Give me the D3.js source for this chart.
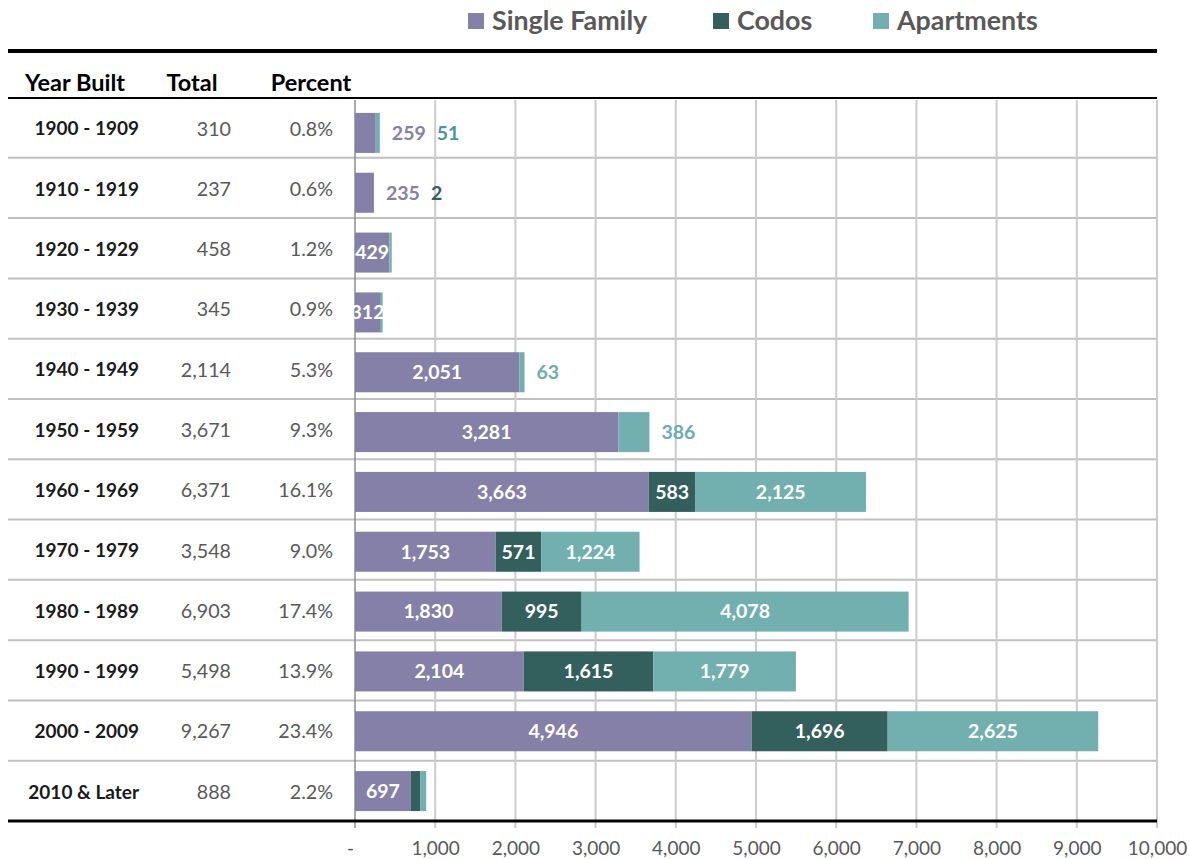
<!DOCTYPE html>
<html>
<head>
<meta charset="utf-8">
<script src="https://cdn.jsdelivr.net/npm/d3@7"></script>
<style>
  html, body { margin: 0; padding: 0; background: #fff; }
  svg { display: block; font-family: Lato, "Open Sans", sans-serif; }
</style>
</head>
<body>
<svg id="chart" width="1189" height="859"></svg>
<script>
// Housing units by year built, split by structure type
const yearBuilt = ["1900 - 1909", "1910 - 1919", "1920 - 1929", "1930 - 1939", "1940 - 1949",
  "1950 - 1959", "1960 - 1969", "1970 - 1979", "1980 - 1989", "1990 - 1999", "2000 - 2009", "2010 & Later"];
const totals = [310, 237, 458, 345, 2114, 3671, 6371, 3548, 6903, 5498, 9267, 888];
const percents = ["0.8%", "0.6%", "1.2%", "0.9%", "5.3%", "9.3%", "16.1%", "9.0%", "17.4%", "13.9%", "23.4%", "2.2%"];
const singleFamily = [259, 235, 429, 312, 2051, 3281, 3663, 1753, 1830, 2104, 4946, 697];
const codos = [0, 2, 0, 0, 0, 4, 583, 571, 995, 1615, 1696, 115];
const apartments = [51, 0, 29, 33, 63, 386, 2125, 1224, 4078, 1779, 2625, 76];
const seriesNames = ["Single Family", "Codos", "Apartments"];
const xTicks = [0, 1000, 2000, 3000, 4000, 5000, 6000, 7000, 8000, 9000, 10000];
// segments whose value label sits to the right of the bar
const outsideLabels = ["1900 - 1909|Single Family", "1900 - 1909|Apartments", "1910 - 1919|Single Family",
  "1910 - 1919|Codos", "1940 - 1949|Apartments", "1950 - 1959|Apartments"];
// segments drawn without a value label
const unlabeled = ["1920 - 1929|Apartments", "1930 - 1939|Apartments", "1950 - 1959|Codos",
  "2010 & Later|Codos", "2010 & Later|Apartments"];

const colors = { "Single Family": "#8580a8", "Codos": "#335f5d", "Apartments": "#72b0b0" };
const outsideColors = { "Single Family": "#8580a8", "Codos": "#335f5d", "Apartments": "#6aaeae" };

const rows = yearBuilt.map((y, i) => ({
  year: y, total: totals[i], pct: percents[i],
  "Single Family": singleFamily[i], "Codos": codos[i], "Apartments": apartments[i]
}));

const svg = d3.select("#chart");
const left = 8, right = 1157;

const x = d3.scaleLinear().domain([0, 10000]).range([355, 1157]);
const yBar = d3.scaleBand().domain(yearBuilt).range([103, 821]).paddingInner(0.331).paddingOuter(0.1655);
const yRow = d3.scaleBand().domain(yearBuilt).range([97.5, 821]);

// legend
const legendX = { "Single Family": 468, "Codos": 713, "Apartments": 873 };
const lg = svg.append("g");
seriesNames.forEach(s => {
  lg.append("rect").attr("x", legendX[s]).attr("y", 13).attr("width", 16).attr("height", 16).attr("fill", colors[s]);
  lg.append("text").attr("x", legendX[s] + 24).attr("y", 30)
    .attr("font-size", 26.8).attr("font-weight", 700).attr("fill", "#595959").text(s);
});

// table rules
svg.append("line").attr("x1", left).attr("x2", right).attr("y1", 51).attr("y2", 51)
  .attr("stroke", "#000").attr("stroke-width", 4);
svg.append("line").attr("x1", left).attr("x2", right).attr("y1", 98).attr("y2", 98)
  .attr("stroke", "#000").attr("stroke-width", 2);
svg.append("g").selectAll("line").data(yearBuilt.slice(1)).join("line")
  .attr("x1", left).attr("x2", right)
  .attr("y1", d => yRow(d)).attr("y2", d => yRow(d))
  .attr("stroke", "#c0c0c0").attr("stroke-width", 2);

// vertical gridlines and axis
svg.append("g").selectAll("line").data(xTicks.slice(1)).join("line")
  .attr("x1", d => x(d)).attr("x2", d => x(d)).attr("y1", 100).attr("y2", 828)
  .attr("stroke", "#cccccc").attr("stroke-width", 2);
svg.append("line").attr("x1", x(0)).attr("x2", x(0)).attr("y1", 100).attr("y2", 828)
  .attr("stroke", "#8c8c8c").attr("stroke-width", 1.5);

const xAxis = d3.axisBottom(x).tickValues(xTicks).tickSize(0).tickPadding(0)
  .tickFormat(d => d === 0 ? "-" : d3.format(",")(d));
const ax = svg.append("g").attr("transform", "translate(0,841)").call(xAxis);
ax.select(".domain").remove();
ax.selectAll("text").attr("font-family", "Lato, 'Open Sans', sans-serif").attr("font-size", 19)
  .attr("fill", "#595959").attr("dy", "0.72em").attr("dx", d => d === 0 ? -5 : 0);

// header
const header = [["Year Built", 75], ["Total", 192], ["Percent", 311]];
svg.append("g").selectAll("text").data(header).join("text")
  .attr("x", d => d[1]).attr("y", 91).attr("text-anchor", "middle")
  .attr("font-size", 23.5).attr("font-weight", 700).attr("fill", "#000").text(d => d[0]);

// table cells
const cells = svg.append("g");
const rowMid = d => yRow(d.year) + yRow.bandwidth() / 2 + 1;
cells.selectAll(".yr").data(rows).join("text").attr("class", "yr")
  .attr("x", 139).attr("y", rowMid).attr("dy", "0.35em").attr("text-anchor", "end")
  .attr("font-size", 19).attr("font-weight", 700).attr("fill", "#1a1a1a").text(d => d.year);
cells.selectAll(".tot").data(rows).join("text").attr("class", "tot")
  .attr("x", 231).attr("y", rowMid).attr("dy", "0.35em").attr("text-anchor", "end")
  .attr("font-size", 19.7).attr("fill", "#595959").text(d => d3.format(",")(d.total));
cells.selectAll(".pct").data(rows).join("text").attr("class", "pct")
  .attr("x", 333).attr("y", rowMid).attr("dy", "0.35em").attr("text-anchor", "end")
  .attr("font-size", 19.7).attr("fill", "#595959").text(d => d.pct);

// bottom rule
svg.append("line").attr("x1", left).attr("x2", right).attr("y1", 821).attr("y2", 821)
  .attr("stroke", "#000").attr("stroke-width", 3);

// stacked bars
const stacked = d3.stack().keys(seriesNames)(rows);
const bars = svg.append("g");
stacked.forEach(layer => {
  bars.append("g").attr("fill", colors[layer.key]).selectAll("rect")
    .data(layer.filter(d => d[1] > d[0])).join("rect")
    .attr("x", d => x(d[0])).attr("width", d => x(d[1]) - x(d[0]))
    .attr("y", d => yBar(d.data.year)).attr("height", yBar.bandwidth());
});

// value labels
const labels = svg.append("g").attr("font-size", 19.5).attr("font-weight", 700);
rows.forEach(r => {
  let cursor = x(r.total) + 12;
  const cy = yBar(r.year) + yBar.bandwidth() / 2;
  let start = 0;
  seriesNames.forEach(s => {
    const v = r[s];
    const key = r.year + "|" + s;
    const x0 = start, x1 = start + v;
    start = x1;
    if (v <= 0 || unlabeled.includes(key)) return;
    const txt = d3.format(",")(v);
    if (outsideLabels.includes(key)) {
      const t = labels.append("text").attr("x", cursor).attr("y", cy).attr("dy", "0.35em")
        .attr("fill", s === "Apartments" && r.year === "1900 - 1909" ? "#4b95a5" : outsideColors[s]).text(txt);
      cursor += t.node().getComputedTextLength() + 11;
    } else {
      labels.append("text").attr("x", (x(x0) + x(x1)) / 2).attr("y", cy).attr("dy", "0.35em")
        .attr("text-anchor", "middle").attr("fill", "#fff").text(txt);
    }
  });
});
</script>
</body>
</html>
